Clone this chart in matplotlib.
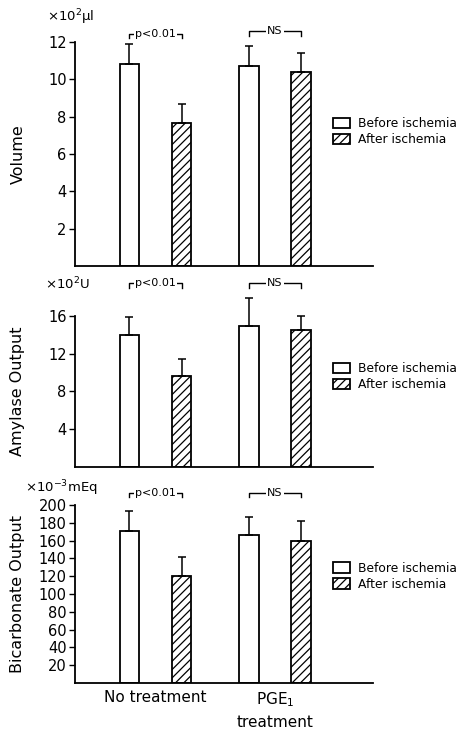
import matplotlib.pyplot as plt
import numpy as np

groups = ["No treatment", "PGE$_\\mathregular{1}$\ntreatment"]
series_labels = ["Before ischemia", "After ischemia"]

volume_before = [10.8, 10.7]
volume_before_err = [1.1, 1.1]
volume_after = [7.65, 10.4]
volume_after_err = [1.05, 1.0]

amylase_before = [14.0, 14.9]
amylase_before_err = [1.9, 3.0]
amylase_after = [9.6, 14.5]
amylase_after_err = [1.8, 1.5]

bicarb_before = [171, 166]
bicarb_before_err = [22, 21]
bicarb_after = [120, 160]
bicarb_after_err = [22, 22]

plt.rcParams["font.family"] = "DejaVu Sans"
plt.rcParams["hatch.linewidth"] = 0.9

fig = plt.figure(figsize=(4.64, 7.30), dpi=100)

left, width = 0.1616, 0.642
panels = [
    dict(rect=[left, 0.6356, width, 0.3068], ylabel="Volume", unit="×10$^\\mathregular{2}$μl",
         before=volume_before, before_err=volume_before_err,
         after=volume_after, after_err=volume_after_err,
         ymax=12, yticks=[2, 4, 6, 8, 10, 12], bracket=(12.45, 12.6), drop=0.25,
         unit_xy=(-0.094, 1.11)),
    dict(rect=[left, 0.3603, width, 0.2068], ylabel="Amylase Output", unit="×10$^\\mathregular{2}$U",
         before=amylase_before, before_err=amylase_before_err,
         after=amylase_after, after_err=amylase_after_err,
         ymax=16, yticks=[4, 8, 12, 16], bracket=(19.5, 19.5), drop=0.5,
         unit_xy=(-0.1, 1.21)),
    dict(rect=[left, 0.0644, width, 0.2438], ylabel="Bicarbonate Output", unit="×10$^\\mathregular{-3}$mEq",
         before=bicarb_before, before_err=bicarb_before_err,
         after=bicarb_after, after_err=bicarb_after_err,
         ymax=200, yticks=list(range(20, 201, 20)), bracket=(213, 213), drop=4,
         unit_xy=(-0.168, 1.095)),
]

x = np.arange(len(groups))
offset = 0.218
bar_w = 0.165

for p in panels:
    ax = fig.add_axes(p["rect"])
    b1 = ax.bar(x - offset, p["before"], bar_w, color="white", edgecolor="black",
                linewidth=1.3, label=series_labels[0])
    b2 = ax.bar(x + offset, p["after"], bar_w, color="white", edgecolor="black",
                linewidth=1.3, hatch="////", label=series_labels[1])
    ax.errorbar(x - offset, p["before"], yerr=[np.zeros(2), p["before_err"]], fmt="none",
                ecolor="black", elinewidth=1.1, capsize=3, capthick=1.1, clip_on=False)
    ax.errorbar(x + offset, p["after"], yerr=[np.zeros(2), p["after_err"]], fmt="none",
                ecolor="black", elinewidth=1.1, capsize=3, capthick=1.1, clip_on=False)

    ax.set_xlim(-0.674, 1.82)
    ax.set_ylim(0, p["ymax"])
    ax.set_yticks(p["yticks"])
    ax.tick_params(axis="y", direction="out", length=4, width=1, labelsize=10.5, pad=2)
    ax.spines["top"].set_visible(False)
    ax.spines["right"].set_visible(False)
    ax.spines["left"].set_linewidth(1.3)
    ax.spines["bottom"].set_linewidth(1.3)
    ax.set_xticks(x)
    ax.set_xticklabels([])
    ax.tick_params(axis="x", length=0)

    # y label centred on the axes, near the left edge of the figure
    bbox = ax.get_position()
    fig.text(18 / 464, bbox.y0 + bbox.height / 2, p["ylabel"], rotation=90,
             ha="center", va="center", fontsize=11.5)

    ax.text(p["unit_xy"][0], p["unit_xy"][1], p["unit"], transform=ax.transAxes,
            fontsize=9.5, ha="left", va="center")

    # significance brackets
    for gi, (label, yb) in enumerate(zip(["p<0.01", "NS"], p["bracket"])):
        xl, xr = x[gi] - offset, x[gi] + offset
        ax.plot([xl, xl, xr, xr], [yb - p["drop"], yb, yb, yb - p["drop"]], color="black",
                lw=1, clip_on=False)
        ax.text(x[gi], yb, label, ha="center", va="center", fontsize=8,
                bbox=dict(facecolor="white", edgecolor="none", pad=1))

    ax.legend(handles=[b1, b2], loc="center left", bbox_to_anchor=(0.85, 0.6),
              frameon=False, fontsize=8.8, handlelength=1.4, handleheight=0.9,
              handletextpad=0.6, labelspacing=0.25, borderaxespad=0)

    if p is panels[-1]:
        ax.set_xticklabels(groups, fontsize=11, va="top", linespacing=1.5)
        ax.tick_params(axis="x", pad=5)

fig.savefig("out.png", dpi=100)
